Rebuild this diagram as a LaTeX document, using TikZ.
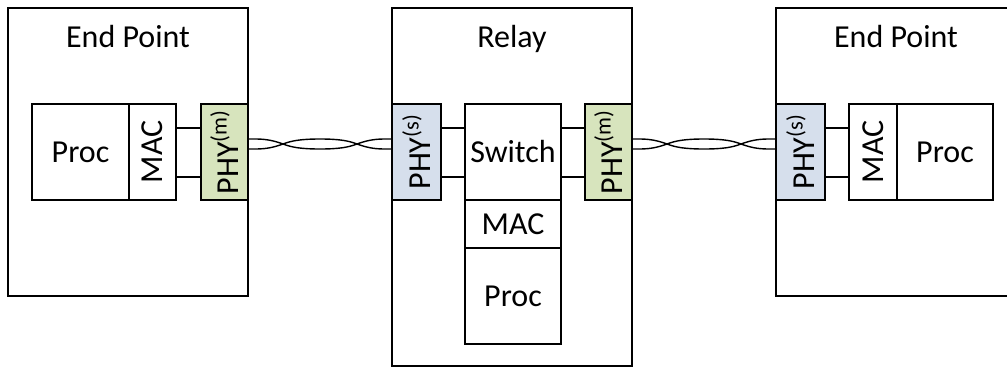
\documentclass[tikz,border=0pt]{standalone}
\usepackage{fontspec}
\setmainfont{Carlito}
\usetikzlibrary{calc}
\definecolor{phygreen}{RGB}{215,228,189}
\definecolor{phyblue}{RGB}{214,223,236}
\begin{document}
\begin{tikzpicture}[x=0.75pt,y=-0.75pt,
  every node/.style={inner sep=0pt,outer sep=0pt,font=\fontsize{24}{28}\selectfont},
  frame/.style={draw,line width=1.3pt,rectangle},
  blk/.style={frame,fill=white},
  gphy/.style={frame,fill=phygreen},
  bphy/.style={frame,fill=phyblue},
  wire/.style={line width=1.3pt},
  twist/.style={line width=1.05pt}]
\useasboundingbox (0,0) rectangle (1007,368);
% outer boxes
\node[frame,minimum width={240*0.75pt},minimum height={288*0.75pt}] (lbox) at (128,152) {};
\node[frame,minimum width={240*0.75pt},minimum height={358*0.75pt}] (mbox) at (512,187) {};
\node[frame,minimum width={240*0.75pt},minimum height={288*0.75pt}] (rbox) at (896,152) {};
\node[anchor=base] (lt) at (128,47) {End Point};
\node[anchor=base] (mt) at (512,47) {Relay};
\node[anchor=base] (rt) at (896,47) {End Point};
% left end point
\node[blk,minimum width={97*0.75pt},minimum height={96*0.75pt}] (lproc) at (80.5,152) {Proc};
\node[blk,minimum width={47*0.75pt},minimum height={96*0.75pt}] (lmac) at (152.5,152) {};
\node[rotate=90] (lmact) at (lmac) {MAC};
\node[gphy,minimum width={47*0.75pt},minimum height={96*0.75pt}] (lphy) at (224.5,152) {};
\node[rotate=90] (lphyt) at (lphy) {PHY\textsuperscript{(m)}};
% relay
\node[bphy,minimum width={49*0.75pt},minimum height={96*0.75pt}] (mphys) at (416.5,152) {};
\node[rotate=90] (mphyst) at (mphys) {PHY\textsuperscript{(s)}};
\node[blk,minimum width={96*0.75pt},minimum height={96*0.75pt}] (sw) at (513,152) {Switch};
\node[blk,minimum width={96*0.75pt},minimum height={48*0.75pt}] (mmac) at (513,224) {MAC};
\node[blk,minimum width={96*0.75pt},minimum height={96*0.75pt}] (mproc) at (513,296) {Proc};
\node[gphy,minimum width={47*0.75pt},minimum height={96*0.75pt}] (mphym) at (608.5,152) {};
\node[rotate=90] (mphymt) at (mphym) {PHY\textsuperscript{(m)}};
% right end point
\node[bphy,minimum width={49*0.75pt},minimum height={96*0.75pt}] (rphy) at (800.5,152) {};
\node[rotate=90] (rphyt) at (rphy) {PHY\textsuperscript{(s)}};
\node[blk,minimum width={48*0.75pt},minimum height={96*0.75pt}] (rmac) at (873,152) {};
\node[rotate=90] (rmact) at (rmac) {MAC};
\node[blk,minimum width={96*0.75pt},minimum height={96*0.75pt}] (rproc) at (945,152) {Proc};
% MAC-PHY links
\foreach \a/\b in {lmac/lphy, mphys/sw, sw/mphym}{
  \draw[wire] ([yshift=18pt]\a.east) -- ([yshift=18pt]\b.west);
  \draw[wire] ([yshift=-18.75pt]\a.east) -- ([yshift=-18.75pt]\b.west);
}
\draw[wire] ([yshift=18pt]rphy.east) -- ([yshift=18pt]rmac.west);
\draw[wire] ([yshift=-18.75pt]rphy.east) -- ([yshift=-18.75pt]rmac.west);
% twisted pairs
\coordinate (tp1) at ($(lphy.east)!0.5!(mphys.west)$);
\coordinate (tp2) at ($(mphym.east)!0.5!(rphy.west)$);
\foreach \a/\m/\b in {lphy/tp1/mphys, mphym/tp2/rphy}{
  \draw[twist] ($(\a.east)+(0,-13)$) -- ($(\m)+(-64,-13)$)
    .. controls ($(\m)+(-52,-13)$) and ($(\m)+(-44,-10.5)$) .. ($(\m)+(-37,-8)$)
    .. controls ($(\m)+(-28,-4.5)$) and ($(\m)+(-18,-3)$) .. ($(\m)+(0,-3)$)
    .. controls ($(\m)+(18,-3)$) and ($(\m)+(28,-4.5)$) .. ($(\m)+(37,-8)$)
    .. controls ($(\m)+(44,-10.5)$) and ($(\m)+(52,-13)$) .. ($(\m)+(64,-13)$)
    -- ($(\b.west)+(0,-13)$);
  \draw[twist] ($(\a.east)+(0,-3)$) -- ($(\m)+(-64,-3)$)
    .. controls ($(\m)+(-52,-3)$) and ($(\m)+(-44,-5.5)$) .. ($(\m)+(-37,-8)$)
    .. controls ($(\m)+(-28,-11.5)$) and ($(\m)+(-18,-13)$) .. ($(\m)+(0,-13)$)
    .. controls ($(\m)+(18,-13)$) and ($(\m)+(28,-11.5)$) .. ($(\m)+(37,-8)$)
    .. controls ($(\m)+(44,-5.5)$) and ($(\m)+(52,-3)$) .. ($(\m)+(64,-3)$)
    -- ($(\b.west)+(0,-3)$);
}
\end{tikzpicture}
\end{document}
